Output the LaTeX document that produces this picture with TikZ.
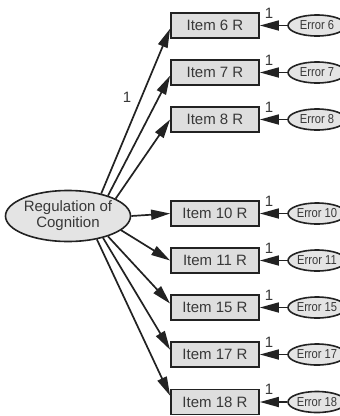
\documentclass[tikz,border=0pt]{standalone}
\usepackage{fontspec}
\setmainfont{Liberation Sans}
\newfontfamily\errfont[FakeStretch=0.86]{Liberation Sans}
\usetikzlibrary{arrows.meta,shapes.geometric}
\definecolor{boxfill}{HTML}{DEDEDE}
\definecolor{ellfill}{HTML}{E4E4E4}
\definecolor{edge}{HTML}{222222}
\definecolor{txt}{HTML}{383838}
\tikzset{
  itembox/.style={draw=edge, line width=1.8pt, fill=boxfill, minimum width=88pt, minimum height=25pt, inner sep=0pt, text=txt, font=\fontsize{15}{17}\selectfont},
  errell/.style={ellipse, draw=edge, line width=1.6pt, fill=ellfill, minimum width=58pt, minimum height=21pt, inner sep=0pt, text=txt, font=\errfont\fontsize{13}{15}\selectfont},
  latent/.style={ellipse, draw=edge, line width=1.6pt, fill=ellfill, minimum width=112pt, minimum height=51pt, inner sep=0pt, text=txt, align=center, font=\fontsize{15}{16}\selectfont},
  path/.style={draw=edge, line width=1.7pt, -{Triangle[length=19pt,width=10pt]}},
  one/.style={text=txt, font=\fontsize{15}{17}\selectfont, inner sep=0pt}
}
\begin{document}
\begin{tikzpicture}[x=1pt,y=-1pt]
\clip (0,0) rectangle (340,416);
\fill[white] (0,0) rectangle (340,416);
\node[latent] (L) at (68,216) {Regulation of\\Cognition};
\foreach \n/\y in {6/25.5,7/72.5,8/119.5,10/213.5,11/260.5,15/307.5,17/354.5,18/402}{
  \node[itembox] (I\n) at (215,\y) {Item \n{} R};
  \node[errell] (E\n) at (317,\y) {Error \n};
  \draw[path] (E\n) -- (I\n);
  \node[one] (O\n) at (269,\y-12.5) {1};
}
\draw[path] (L.34) -- (I6.184);
\draw[path] (L.27) -- (I7.184);
\draw[path] (L.20) -- (I8.west);
\draw[path] (L.east) -- (I10.west);
\draw[path] (L.-15) -- (I11.west);
\draw[path] (L.-27) -- (I15.175);
\draw[path] (L.-32) -- (I17.174);
\draw[path] (L.-39) -- (I18.172);
\node[one] (O1) at (127,97) {1};
\end{tikzpicture}
\end{document}
